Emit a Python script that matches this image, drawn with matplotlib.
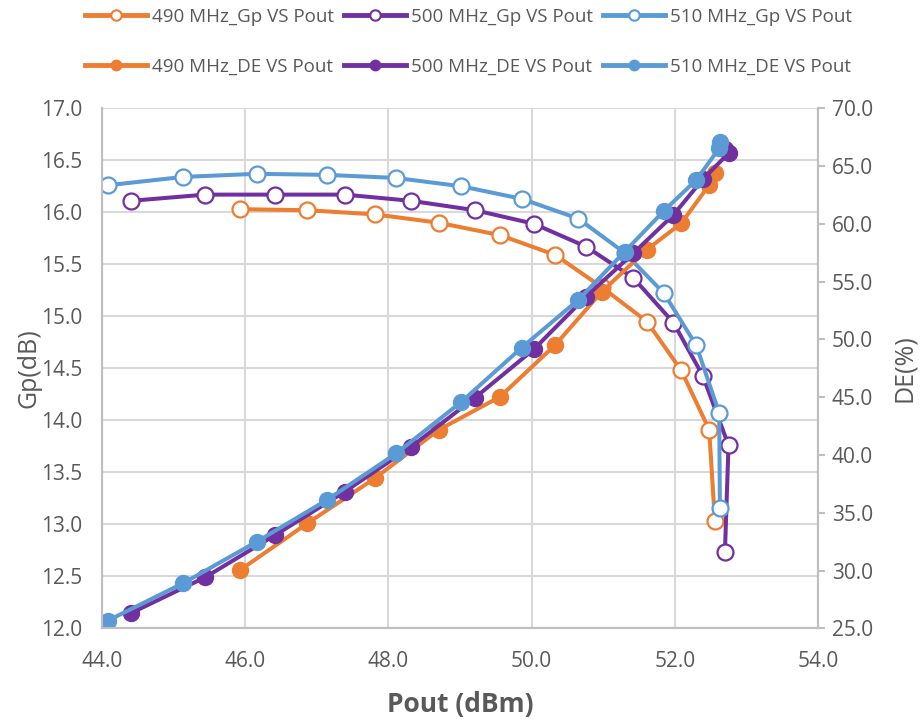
import matplotlib
matplotlib.use("Agg")
import matplotlib.pyplot as plt
from matplotlib.lines import Line2D

plt.rcParams['font.family'] = ['Open Sans', 'DejaVu Sans']

# data
pout_490 = [45.93, 46.87, 47.81, 48.70, 49.56, 50.33, 50.98, 51.61, 52.09, 52.48, 52.56]
gp_490 = [16.03, 16.02, 15.98, 15.90, 15.78, 15.59, 15.28, 14.95, 14.48, 13.91, 13.03]
de_490 = [30.05, 34.09, 37.98, 42.16, 45.04, 49.52, 54.13, 57.77, 60.05, 63.36, 64.37]

pout_500 = [44.40, 45.44, 46.42, 47.39, 48.32, 49.21, 50.03, 50.76, 51.42, 51.98, 52.39, 52.75, 52.70]
gp_500 = [16.11, 16.17, 16.17, 16.17, 16.11, 16.02, 15.89, 15.67, 15.37, 14.94, 14.43, 13.76, 12.73]
de_500 = [26.30, 29.41, 33.07, 36.82, 40.72, 44.96, 49.14, 53.70, 57.45, 60.77, 63.85, 66.10, 66.50]

pout_510 = [44.08, 45.13, 46.16, 47.14, 48.11, 49.02, 49.86, 50.65, 51.30, 51.85, 52.30, 52.62, 52.63]
gp_510 = [16.26, 16.34, 16.37, 16.36, 16.33, 16.25, 16.13, 15.94, 15.61, 15.22, 14.72, 14.07, 13.16]
de_510 = [25.66, 28.89, 32.49, 36.10, 40.14, 44.60, 49.28, 53.41, 57.59, 61.14, 63.80, 66.54, 67.10]

freqs = ['490 MHz', '500 MHz', '510 MHz']
colors = ['#ED7D31', '#7030A0', '#5B9BD5']
txt = '#595959'
grid_c = '#D9D9D9'
axis_c = '#BFBFBF'

fig = plt.figure(figsize=(9.22, 7.22), dpi=100)
ax = fig.add_axes([102 / 922, 1 - 628.3 / 722, 716 / 922, 520 / 722])
ax2 = ax.twinx()

series = [(pout_490, gp_490, de_490), (pout_500, gp_500, de_500), (pout_510, gp_510, de_510)]

# Gp on left axis (open markers), DE on right axis (filled markers)
for (x, gp, de), c in zip(series, colors):
    ax.plot(x, gp, color=c, lw=2.9, marker='o', ms=11.5, mfc='white', mec=c, mew=1.6)
    ax2.plot(x, de, color=c, lw=2.9, marker='o', ms=11.5, mfc=c, mec=c)

ax.set_xlim(44, 54)
ax.set_ylim(12, 17)
ax2.set_ylim(25, 70)
ax.set_xticks([44, 46, 48, 50, 52, 54])
ax.set_yticks([12 + 0.5 * i for i in range(11)])
ax2.set_yticks([25 + 5 * i for i in range(10)])
fmt = matplotlib.ticker.FormatStrFormatter('%.1f')
ax.xaxis.set_major_formatter(fmt)
ax.yaxis.set_major_formatter(fmt)
ax2.yaxis.set_major_formatter(fmt)

ax.grid(True, color=grid_c, lw=1.5)
ax.set_axisbelow(True)
for a in (ax, ax2):
    a.spines['top'].set_visible(False)
    for s in ('left', 'right', 'bottom'):
        a.spines[s].set_color(axis_c)
        a.spines[s].set_linewidth(1.5)

ax.tick_params(axis='x', length=0, pad=16, labelsize=15, labelcolor=txt)
ax.tick_params(axis='y', length=0, pad=14, labelsize=15, labelcolor=txt)
ax2.tick_params(axis='y', length=5, width=1.5, color=axis_c, pad=5, labelsize=15, labelcolor=txt)

ax.set_ylabel('Gp(dB)', fontsize=18, color=txt)
ax.yaxis.set_label_coords(-0.084, 0.5)
ax2.set_ylabel('DE(%)', fontsize=18, color=txt)
ax2.yaxis.set_label_coords(1.104, 0.5)
ax.set_xlabel('Pout (dBm)', fontsize=19, fontweight='bold', color=txt)
ax.xaxis.set_label_coords(0.5, -0.12)

# legend: row 1 Gp, row 2 DE
handles, labels = [], []
for f, c in zip(freqs, colors):
    handles.append(Line2D([], [], color=c, lw=3.5, marker='o', ms=7.5, mfc='white', mec=c, mew=1.5))
    labels.append(f + '_Gp VS Pout')
    handles.append(Line2D([], [], color=c, lw=3.5, marker='o', ms=7.5, mfc=c, mec=c))
    labels.append(f + '_DE VS Pout')

leg = fig.legend(handles, labels, ncol=3, loc='upper left', bbox_to_anchor=(85 / 922, 1 - 8 / 722),
                 frameon=False, fontsize=13.5, handlelength=3.3, handletextpad=0.3,
                 columnspacing=0.5, labelspacing=1.7, borderpad=0, borderaxespad=0)
for t in leg.get_texts():
    t.set_color(txt)

fig.savefig('out.png', dpi=100)
